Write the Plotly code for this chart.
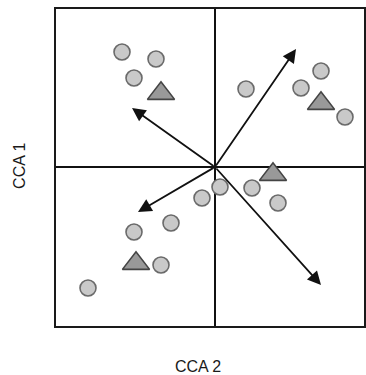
import plotly.graph_objects as go

# Sample scores (circles)
site_x = [-0.93, -0.59, -0.81, 0.31, 0.86, 1.06, 1.30, 0.05, 0.37, -0.13, 0.63, -0.81, -0.44, -0.54, -1.27]
site_y = [1.15, 1.08, 0.89, 0.78, 0.79, 0.96, 0.50, -0.20, -0.21, -0.31, -0.36, -0.65, -0.56, -0.98, -1.21]

# Group centroids (triangles)
cent_x = [-0.54, 1.06, 0.58, -0.79]
cent_y = [0.735, 0.635, -0.075, -0.965]

# Environmental vectors (arrows from origin)
vec_x = [-0.83, 0.81, -0.77, 1.06]
vec_y = [0.59, 1.18, -0.45, -1.18]

x_range = [-1.6, 1.5]
y_range = [-1.6, 1.59]

fig = go.Figure()

fig.add_trace(go.Scatter(
    x=site_x, y=site_y, mode="markers",
    marker=dict(symbol="circle", size=16, color="#c9c9c9",
                line=dict(color="#6a6a6a", width=1.6)),
    hoverinfo="skip", showlegend=False))

fig.add_trace(go.Scatter(
    x=cent_x, y=cent_y, mode="markers",
    marker=dict(symbol="triangle-up", size=23.5, color="#999999",
                line=dict(color="#444444", width=1.6)),
    hoverinfo="skip", showlegend=False))

annotations = []
for vx, vy in zip(vec_x, vec_y):
    annotations.append(dict(
        x=vx, y=vy, ax=0, ay=0, xref="x", yref="y", axref="x", ayref="y",
        text="", showarrow=True, arrowhead=2, arrowsize=1.5, arrowwidth=1.8,
        arrowcolor="#111111", standoff=0, startstandoff=0))

annotations.append(dict(
    text="CCA 2", xref="paper", yref="paper", x=0.461, y=0, yshift=-39,
    xanchor="center", yanchor="middle", showarrow=False,
    font=dict(family="Liberation Sans, Arial", size=16, color="#1a1a1a")))
annotations.append(dict(
    text="CCA 1", xref="paper", yref="paper", x=0, y=0.505, xshift=-35,
    xanchor="center", yanchor="middle", textangle=-90, showarrow=False,
    font=dict(family="Liberation Sans, Arial", size=16, color="#1a1a1a")))

axis_common = dict(showgrid=False, showticklabels=False, ticks="",
                   zeroline=True, zerolinecolor="#111111", zerolinewidth=2,
                   showline=False, fixedrange=True)

fig.update_layout(
    width=366, height=375,
    margin=dict(l=55, r=1, t=8, b=48),
    paper_bgcolor="white", plot_bgcolor="white",
    xaxis=dict(range=x_range, **axis_common),
    yaxis=dict(range=y_range, **axis_common),
    annotations=annotations,
    shapes=[dict(type="rect", xref="paper", yref="paper", x0=0, y0=0, x1=1, y1=1,
                 line=dict(color="#1a1a1a", width=2), layer="above")],
    showlegend=False,
)

fig.write_html("out.html", config={"displayModeBar": False})
